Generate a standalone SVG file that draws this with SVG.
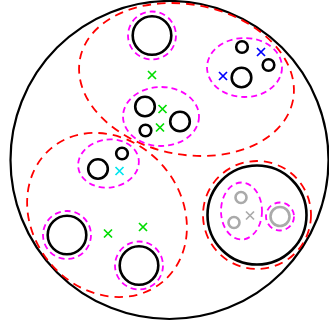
<svg xmlns="http://www.w3.org/2000/svg" width="329" height="327" viewBox="0 0 329 327">
<defs>
<style>
.outer{fill:none;stroke:#000;stroke-width:2.2}
.blk{fill:none;stroke:#000;stroke-width:2.6}
.gry{fill:none;stroke:#aaaaaa;stroke-width:2.6}
.red{fill:none;stroke:#ff0000;stroke-width:1.8;stroke-dasharray:8.5,6}
.mag{fill:none;stroke:#ff00ff;stroke-width:1.8;stroke-dasharray:6,4}
.x{fill:none;stroke-width:1.7}
.g{stroke:#00dd00}
.b{stroke:#0000ff}
.c{stroke:#00e5ee}
.gx{stroke:#aaaaaa}
</style>
<path id="xm" d="M-4,-4L4,4M-4,4L4,-4"/>
</defs>
<rect width="329" height="327" fill="#fff"/>
<g id="world">
<circle class="outer" cx="169.5" cy="160" r="159"/>
</g>
<g id="cluster-top">
<ellipse class="red" cx="186.5" cy="79.5" rx="108.5" ry="75" transform="rotate(11 186.5 79.5)"/>
</g>
<g id="cluster-left">
<ellipse class="red" cx="107" cy="215" rx="87" ry="74.5" transform="rotate(50 107 215)"/>
</g>
<g id="cluster-right">
<circle class="red" cx="257" cy="215" r="54"/>
<circle class="blk" cx="257" cy="215" r="49.5"/>
</g>
<g id="node-top">
<circle class="mag" cx="152" cy="35.5" r="24"/>
<circle class="blk" cx="152" cy="35.5" r="19.3"/>
</g>
<g id="marker-top">
<use href="#xm" class="x g" x="152" y="75"/>
</g>
<g id="group-topright">
<ellipse class="mag" cx="244.5" cy="67.5" rx="37.5" ry="29.5"/>
<circle class="blk" cx="242" cy="47" r="5.8"/>
<circle class="blk" cx="268.5" cy="65" r="5.8"/>
<circle class="blk" cx="241.5" cy="77.5" r="9.8"/>
<use href="#xm" class="x b" x="261" y="52"/>
<use href="#xm" class="x b" x="223" y="76"/>
</g>
<g id="group-middle">
<ellipse class="mag" cx="161" cy="116.5" rx="38" ry="29.5"/>
<circle class="blk" cx="145" cy="106.5" r="9.8"/>
<circle class="blk" cx="145.5" cy="130.5" r="5.8"/>
<circle class="blk" cx="180" cy="121.5" r="9.8"/>
<use href="#xm" class="x g" x="162.5" y="109"/>
<use href="#xm" class="x g" x="160" y="127.5"/>
</g>
<g id="group-left">
<ellipse class="mag" cx="108.5" cy="163.5" rx="30.5" ry="24" transform="rotate(-8 108.5 163.5)"/>
<circle class="blk" cx="98" cy="169" r="9.8"/>
<circle class="blk" cx="122" cy="153.5" r="5.8"/>
<use href="#xm" class="x c" x="119.5" y="171"/>
</g>
<g id="node-bl1">
<circle class="mag" cx="67" cy="235" r="24"/>
<circle class="blk" cx="67" cy="235" r="19.3"/>
</g>
<g id="node-bl2">
<circle class="mag" cx="139" cy="265.5" r="24"/>
<circle class="blk" cx="139" cy="265.5" r="19.3"/>
</g>
<g id="markers-bl">
<use href="#xm" class="x g" x="108" y="233.5"/>
<use href="#xm" class="x g" x="143" y="227"/>
</g>
<g id="group-gray">
<ellipse class="mag" cx="241.5" cy="211" rx="20.5" ry="28.5"/>
<circle class="gry" cx="241" cy="197.5" r="5.5"/>
<circle class="gry" cx="234" cy="222.5" r="5.5"/>
<use href="#xm" class="x gx" x="250" y="215.5"/>
</g>
<g id="node-gray">
<circle class="mag" cx="280" cy="216.5" r="14"/>
<circle class="gry" cx="280" cy="216.5" r="9.5"/>
</g>
<g id="connectors"></g>
</svg>
